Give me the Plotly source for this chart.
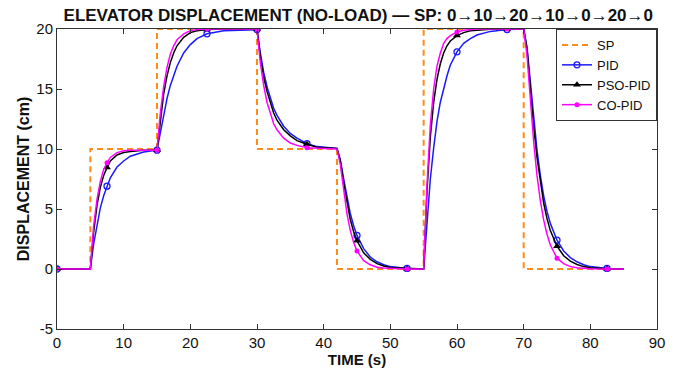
import plotly.graph_objects as go

# ---- data ----
SP_T = [0, 5, 15, 30, 42, 55, 70, 85]
SP_V = [0, 10, 20, 10, 0, 20, 0, 0]

T = [0, 5, 5.5, 6, 6.5, 7, 7.5, 8, 9, 10, 11, 12, 13, 15,
     15.5, 16, 16.5, 17, 17.5, 18, 19, 20, 21, 22.5, 25, 30,
     30.5, 31, 31.5, 32, 32.5, 33, 34, 35, 36, 37.5, 39, 42,
     42.5, 43, 43.5, 44, 44.5, 45, 46, 47, 48, 49, 50, 52.5, 55,
     55.5, 56, 56.5, 57, 57.5, 58, 58.5, 59, 60, 61, 62, 63, 65, 67.5, 70,
     70.5, 71, 71.5, 72, 72.5, 73, 73.5, 74, 75, 76, 77, 78, 79, 80, 82.5, 85]

PID = [0, 0, 2.1, 3.7, 5.1, 6.1, 6.9, 7.6, 8.5, 9.0, 9.4, 9.6, 9.75, 9.9,
       11.3, 12.9, 14.2, 15.3, 16.2, 16.9, 18.0, 18.7, 19.2, 19.6, 19.85, 19.95,
       18.0, 16.4, 15.2, 14.2, 13.4, 12.8, 11.9, 11.3, 10.9, 10.45, 10.2, 10.05,
       9.1, 7.5, 5.9, 4.6, 3.6, 2.8, 1.7, 1.0, 0.6, 0.35, 0.2, 0.05, 0.0,
       4.0, 7.5, 10.1, 12.3, 13.9, 15.1, 16.1, 17.0, 18.1, 18.8, 19.2, 19.5, 19.8, 19.95, 20.0,
       18.5, 15.5, 12.5, 9.9, 7.8, 6.1, 4.8, 3.8, 2.4, 1.5, 0.95, 0.6, 0.35, 0.2, 0.05, 0.0]

PSO = [0, 0, 3.1, 5.3, 6.8, 7.8, 8.45, 9.0, 9.5, 9.7, 9.8, 9.85, 9.9, 9.9,
       12.5, 14.6, 16.1, 17.2, 18.0, 18.6, 19.3, 19.7, 19.85, 19.95, 20.0, 20.0,
       17.7, 16.0, 14.8, 13.8, 13.0, 12.4, 11.6, 11.1, 10.7, 10.4, 10.15, 10.05,
       9.0, 7.2, 5.5, 4.1, 3.1, 2.35, 1.35, 0.8, 0.45, 0.25, 0.12, 0.03, 0.0,
       6.5, 11.0, 13.9, 15.8, 17.1, 18.0, 18.6, 19.0, 19.45, 19.7, 19.85, 19.9, 19.97, 20.0, 20.0,
       18.3, 15.0, 11.9, 9.3, 7.2, 5.5, 4.2, 3.2, 1.9, 1.1, 0.65, 0.38, 0.2, 0.1, 0.02, 0.0]

CO = [0, 0, 3.6, 5.8, 7.3, 8.3, 8.85, 9.3, 9.7, 9.85, 9.9, 9.9, 9.9, 9.9,
      13.0, 15.2, 16.8, 17.9, 18.6, 19.1, 19.6, 19.85, 19.95, 20.0, 20.0, 20.0,
      17.2, 15.3, 13.9, 12.9, 12.1, 11.6, 10.9, 10.5, 10.3, 10.1, 10.05, 10.0,
      8.7, 6.5, 4.6, 3.2, 2.2, 1.5, 0.7, 0.35, 0.15, 0.08, 0.05, 0.0, 0.0,
      7.0, 12.0, 15.0, 16.9, 18.0, 18.8, 19.2, 19.45, 19.75, 19.9, 19.95, 20.0, 20.0, 20.0, 20.0,
      17.8, 14.0, 10.6, 7.8, 5.7, 4.1, 2.9, 2.0, 0.9, 0.45, 0.2, 0.1, 0.05, 0.03, 0.0, 0.0]

MARKER_T = [0, 7.5, 15, 22.5, 30, 37.5, 45, 52.5, 60, 67.5, 75, 82.5]

X_TICKS = [0, 10, 20, 30, 40, 50, 60, 70, 80, 90]
Y_TICKS = [-5, 0, 5, 10, 15, 20]
Y_TICKTEXT = ["-5", "0", "5", "10", "15", "20"]

TITLE = "ELEVATOR DISPLACEMENT (NO-LOAD) \u2014 SP: 0\u219210\u219220\u219210\u21920\u219220\u21920"

FONT = "Liberation Sans, Arial, sans-serif"
C_SP = "#FF8C1A"
C_PID = "#1A1AFF"
C_PSO = "#000000"
C_CO = "#FF00FF"

fig = go.Figure()

fig.add_trace(go.Scatter(x=SP_T, y=SP_V, mode="lines", name="SP",
                         line=dict(color=C_SP, width=2, dash="6px,4px", shape="hv")))

idx = [i for i, t in enumerate(T) if t in MARKER_T]

series = [
    ("PID", PID, C_PID, dict(symbol="circle-open", size=6, color=C_PID, line=dict(width=1.3, color=C_PID))),
    ("PSO-PID", PSO, C_PSO, dict(symbol="triangle-up", size=7, color=C_PSO)),
    ("CO-PID", CO, C_CO, dict(symbol="circle", size=5, color=C_CO)),
]

for name, vals, col, mk in series:
    fig.add_trace(go.Scatter(x=T, y=vals, mode="lines", line=dict(color=col, width=1.5),
                             showlegend=False, hoverinfo="skip"))
    fig.add_trace(go.Scatter(x=[T[i] for i in idx], y=[vals[i] for i in idx], mode="markers",
                             marker=mk, showlegend=False))
    fig.add_trace(go.Scatter(x=[None], y=[None], mode="lines+markers", name=name,
                             line=dict(color=col, width=1.5), marker=mk))

axis_common = dict(showline=True, linecolor="#333333", linewidth=1, mirror="ticks",
                   ticks="inside", ticklen=5, tickcolor="#333333", showgrid=False,
                   zeroline=False, automargin=False,
                   tickfont=dict(family=FONT, size=15, color="#111111"))

fig.update_xaxes(range=[0, 90], tickvals=X_TICKS,
                 title=dict(text="<b>TIME (s)</b>", font=dict(family=FONT, size=15, color="#111111"), standoff=2),
                 **axis_common)
fig.update_yaxes(range=[-5, 20], tickvals=Y_TICKS, ticktext=Y_TICKTEXT,
                 title=dict(text="<b>DISPLACEMENT (cm)</b>", font=dict(family=FONT, size=16, color="#111111"), standoff=2),
                 **axis_common)

fig.update_layout(
    width=676, height=371,
    margin=dict(l=57, r=19, t=29, b=42, autoexpand=False),
    paper_bgcolor="white", plot_bgcolor="white",
    title=dict(text="<b>" + TITLE + "</b>", x=0.53, xanchor="center", y=1 - 15 / 371, yanchor="middle",
               font=dict(family=FONT, size=17, color="#111111")),
    legend=dict(x=1, xanchor="right", y=1, yanchor="top", bgcolor="white",
                bordercolor="#333333", borderwidth=1, itemwidth=30, tracegroupgap=0,
                font=dict(family=FONT, size=13, color="#111111")),
    showlegend=True,
)

fig.write_html("out.html")
